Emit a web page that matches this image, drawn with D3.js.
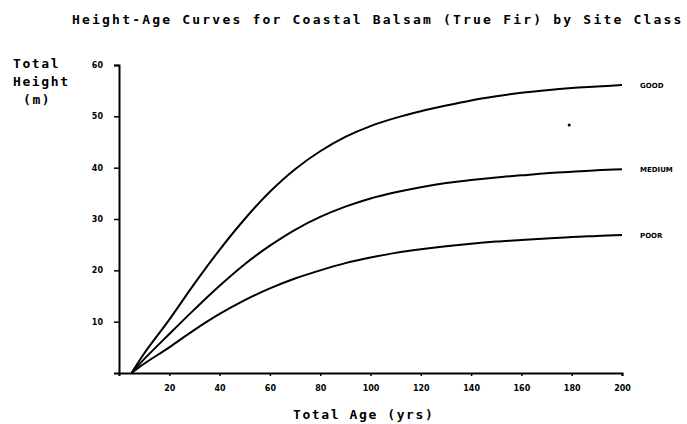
<!DOCTYPE html>
<html>
<head>
<meta charset="utf-8">
<script src="https://cdn.jsdelivr.net/npm/d3@7"></script>
<style>
  body { margin: 0; background: #fff; }
  svg { display: block; }
</style>
</head>
<body>
<div id="chart"></div>
<script>
// ages (yrs)
const ages = [5, 10, 20, 30, 40, 50, 60, 70, 80, 90, 100, 110, 120, 130, 140, 150, 160, 170, 180, 190, 200];

// total height (m) by site class
const good = [0, 3.8, 10.4, 17.4, 24.0, 30.0, 35.3, 39.7, 43.2, 46.0, 48.1, 49.7, 51.0, 52.1, 53.1, 53.9, 54.6, 55.1, 55.5, 55.8, 56.1];
const medium = [0, 2.7, 7.6, 12.4, 17.0, 21.2, 24.8, 27.9, 30.4, 32.4, 34.0, 35.2, 36.2, 37.0, 37.6, 38.1, 38.5, 38.9, 39.2, 39.5, 39.7];
const poor = [0, 1.8, 5.0, 8.4, 11.5, 14.2, 16.5, 18.4, 20.0, 21.4, 22.5, 23.4, 24.1, 24.7, 25.2, 25.6, 25.9, 26.2, 26.5, 26.7, 26.9];

const seriesNames = ["GOOD", "MEDIUM", "POOR"];
const xTicks = [20, 40, 60, 80, 100, 120, 140, 160, 180, 200];
const yTicks = [10, 20, 30, 40, 50, 60];
const strayDot = [[179, 48.3]]; // speck on the original scan

const width = 687, height = 424;
const margin = { top: 65, right: 65, bottom: 51, left: 119 };

const svg = d3.select("#chart")
  .append("svg")
  .attr("width", width)
  .attr("height", height);

const x = d3.scaleLinear().domain([0, 200]).range([margin.left, width - margin.right]);
const y = d3.scaleLinear().domain([0, 60]).range([height - margin.bottom, margin.top]);

const mono = "'DejaVu Sans Mono', monospace";

// title
svg.append("text")
  .attr("x", 72)
  .attr("y", 24)
  .style("font-family", mono)
  .style("font-weight", "bold")
  .style("font-size", "13px")
  .style("letter-spacing", "2.2px")
  .text("Height-Age Curves for Coastal Balsam (True Fir) by Site Class");

// axes
const xAxis = d3.axisBottom(x).tickValues(xTicks).tickSize(3).tickPadding(9);
const yAxis = d3.axisLeft(y).tickValues(yTicks).tickSize(5).tickPadding(11);

const gx = svg.append("g")
  .attr("transform", `translate(0,${y(0)})`)
  .call(xAxis);

const gy = svg.append("g")
  .attr("transform", `translate(${x(0)},0)`)
  .call(yAxis);

[gx, gy].forEach((g) => {
  g.select(".domain").attr("stroke", "#000").attr("stroke-width", 2);
  g.selectAll(".tick line").attr("stroke", "#000").attr("stroke-width", 1.5);
  g.selectAll(".tick text")
    .style("font-family", "'DejaVu Sans', sans-serif")
    .style("font-weight", "bold")
    .style("font-size", "8px")
    .attr("fill", "#000");
});

// axis titles
svg.append("text")
  .attr("x", 293)
  .attr("y", 419)
  .style("font-family", mono)
  .style("font-weight", "bold")
  .style("font-size", "13px")
  .style("letter-spacing", "1.6px")
  .text("Total Age (yrs)");

const yLabel = [["Total", 13, 68], ["Height", 13, 86], ["(m)", 23, 104]];
svg.selectAll(".ylab")
  .data(yLabel)
  .enter()
  .append("text")
  .attr("class", "ylab")
  .attr("x", (d) => d[1])
  .attr("y", (d) => d[2])
  .style("font-family", mono)
  .style("font-weight", "bold")
  .style("font-size", "13px")
  .style("letter-spacing", "1.6px")
  .text((d) => d[0]);

// curves
const line = d3.line()
  .x((d) => x(d[0]))
  .y((d) => y(d[1]))
  .curve(d3.curveCatmullRom.alpha(0.5));

const series = [good, medium, poor].map((vals, i) => ({
  name: seriesNames[i],
  points: ages.map((a, j) => [a, vals[j]])
}));

svg.selectAll(".curve")
  .data(series)
  .enter()
  .append("path")
  .attr("class", "curve")
  .attr("fill", "none")
  .attr("stroke", "#000")
  .attr("stroke-width", 2)
  .attr("d", (d) => line(d.points));

// end labels
svg.selectAll(".end-label")
  .data(series)
  .enter()
  .append("text")
  .attr("class", "end-label")
  .attr("x", (d) => x(d.points[d.points.length - 1][0]) + 18)
  .attr("y", (d) => y(d.points[d.points.length - 1][1]) + 3)
  .style("font-family", "'DejaVu Sans', sans-serif")
  .style("font-weight", "bold")
  .style("font-size", "7px")
  .text((d) => d.name);

svg.selectAll(".speck")
  .data(strayDot)
  .enter()
  .append("circle")
  .attr("class", "speck")
  .attr("cx", (d) => x(d[0]))
  .attr("cy", (d) => y(d[1]))
  .attr("r", 1.5)
  .attr("fill", "#000");
</script>
</body>
</html>
